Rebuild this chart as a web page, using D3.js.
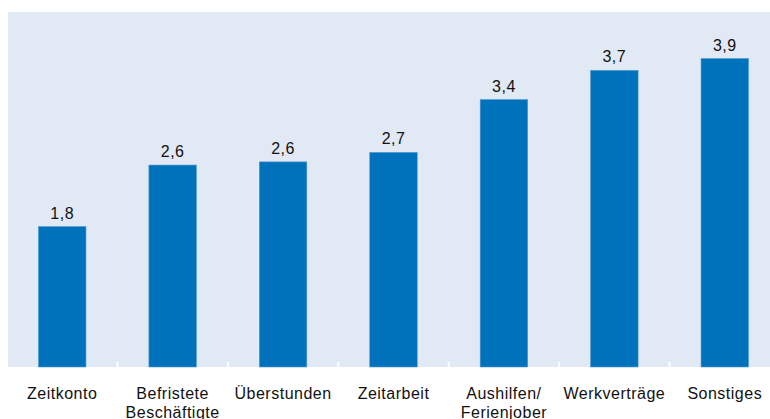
<!DOCTYPE html>
<html>
<head>
<meta charset="utf-8">
<script src="https://cdn.jsdelivr.net/npm/d3@7"></script>
<style>
  body { margin: 0; background: #fff; }
  text { font-family: "Liberation Sans", Arial, sans-serif; letter-spacing: 0.5px; }
</style>
</head>
<body>
<svg id="chart" width="770" height="419"></svg>
<script>
// 데이터
const categories = ["Zeitkonto", "Befristete\nBeschäftigte", "Überstunden", "Zeitarbeit", "Aushilfen/\nFerienjober", "Werkverträge", "Sonstiges"];
const values = [1.78, 2.56, 2.6, 2.72, 3.39, 3.76, 3.91];
const valueLabels = ["1,8", "2,6", "2,6", "2,7", "3,4", "3,7", "3,9"];

const svg = d3.select("#chart");
const plot = { left: 7, right: 780, top: 12, bottom: 367 };

// 배경
svg.append("rect")
    .attr("x", 8)
    .attr("y", plot.top)
    .attr("width", 770 - 8)
    .attr("height", plot.bottom - plot.top)
    .attr("fill", "#e1e9f4");

// 스케일
const x = d3.scaleBand()
    .domain(categories)
    .range([plot.left, plot.right])
    .paddingInner(0.57)
    .paddingOuter(0.285);

const y = d3.scaleLinear()
    .domain([0, 4.5])
    .range([plot.bottom, plot.top]);

// 막대
svg.selectAll(".bar")
    .data(categories)
    .enter()
    .append("rect")
    .attr("class", "bar")
    .attr("x", d => x(d))
    .attr("y", (d, i) => y(values[i]))
    .attr("width", x.bandwidth())
    .attr("height", (d, i) => plot.bottom - y(values[i]))
    .attr("fill", "#0071bb")
    .attr("stroke", "#4f9bd2")
    .attr("stroke-width", 0.6);

// 값 레이블
svg.selectAll(".value")
    .data(categories)
    .enter()
    .append("text")
    .attr("x", d => x(d) + x.bandwidth() / 2)
    .attr("y", (d, i) => y(values[i]) - 8)
    .attr("text-anchor", "middle")
    .style("font-size", "16px")
    .style("fill", "#111")
    .text((d, i) => valueLabels[i]);

// 구분 눈금 (흰색)
const step = x.step();
const tickPos = d3.range(categories.length + 1).map(i => x(categories[0]) + x.bandwidth() / 2 - step / 2 + i * step);
svg.selectAll(".tick-mark")
    .data(tickPos)
    .enter()
    .append("line")
    .attr("x1", d => d)
    .attr("x2", d => d)
    .attr("y1", plot.bottom - 5)
    .attr("y2", plot.bottom)
    .attr("stroke", "#fff")
    .attr("stroke-width", 2);

// 카테고리 레이블
const labels = svg.selectAll(".cat")
    .data(categories)
    .enter()
    .append("text")
    .attr("class", "cat")
    .attr("text-anchor", "middle")
    .style("font-size", "16px")
    .style("fill", "#111");

labels.each(function(d) {
    const t = d3.select(this);
    d.split("\n").forEach((line, j) => {
        t.append("tspan")
            .attr("x", x(d) + x.bandwidth() / 2)
            .attr("y", 399 + j * 19)
            .text(line);
    });
});
</script>
</body>
</html>
